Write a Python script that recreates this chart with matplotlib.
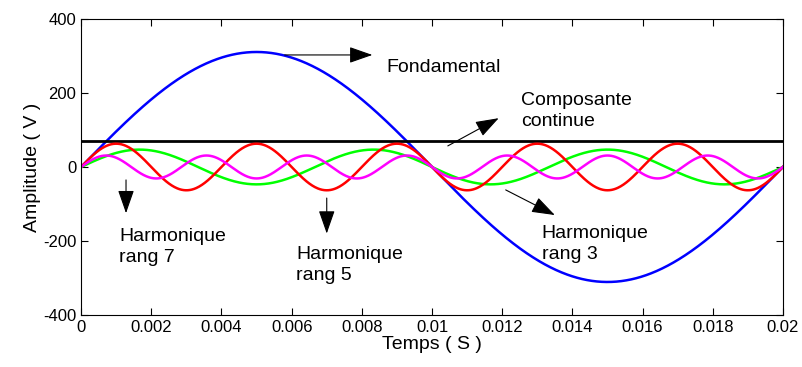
import numpy as np
import matplotlib.pyplot as plt

plt.rcParams['font.family'] = ['Liberation Sans', 'DejaVu Sans']
plt.rcParams['axes.unicode_minus'] = False

# signal parameters
freq = 50.0
t_end = 0.02
dc_level = 70
fund_amp = 311
harm_ranks = [3, 5, 7]
harm_amps = [47, 63, 31]
harm_colors = ['#00ff00', 'red', 'magenta']

t = np.linspace(0, t_end, 1000)
w = 2 * np.pi * freq

fig = plt.figure(figsize=(8.03, 3.67), dpi=100)
ax = fig.add_axes([0.101, 0.142, 0.874, 0.806])

ax.plot(t, fund_amp * np.sin(w * t), color='blue', lw=1.8)
ax.axhline(dc_level, color='black', lw=2)
for n, a, c in zip(harm_ranks, harm_amps, harm_colors):
    ax.plot(t, a * np.sin(n * w * t), color=c, lw=1.8)

ax.set_xlim(0, t_end)
ax.set_ylim(-400, 400)
ax.set_xticks(np.arange(0, 0.0201, 0.002))
ax.set_xticklabels(['0', '0.002', '0.004', '0.006', '0.008', '0.01',
                    '0.012', '0.014', '0.016', '0.018', '0.02'])
ax.set_yticks([-400, -200, 0, 200, 400])
ax.tick_params(direction='in', top=True, right=True, labelsize=12, length=5)
ax.set_xlabel('Temps ( S )', fontsize=14, labelpad=1)
ax.set_ylabel('Amplitude ( V )', fontsize=14, labelpad=1)

arr = dict(arrowstyle='-|>,head_length=0.8,head_width=0.28', color='black',
           lw=0.8, mutation_scale=18, shrinkA=0, shrinkB=0)
fs = 14
ax.annotate('', xy=(0.0083, 303), xytext=(0.0058, 303), arrowprops=arr)
ax.text(0.0087, 268, 'Fondamental', fontsize=fs, va='center')
ax.annotate('', xy=(0.0119, 132), xytext=(0.01045, 57), arrowprops=arr)
ax.text(0.01255, 151, 'Composante\ncontinue', fontsize=fs, va='center', linespacing=1.3)
ax.annotate('', xy=(0.00128, -125), xytext=(0.00128, -35), arrowprops=arr)
ax.text(0.00108, -217, 'Harmonique\nrang 7', fontsize=fs, va='center', linespacing=1.3)
ax.annotate('', xy=(0.0070, -180), xytext=(0.0070, -84), arrowprops=arr)
ax.text(0.00613, -266, 'Harmonique\nrang 5', fontsize=fs, va='center', linespacing=1.3)
ax.annotate('', xy=(0.0135, -130), xytext=(0.0121, -62), arrowprops=arr)
ax.text(0.01313, -208, 'Harmonique\nrang 3', fontsize=fs, va='center', linespacing=1.3)

fig.savefig('out.png', dpi=100)
